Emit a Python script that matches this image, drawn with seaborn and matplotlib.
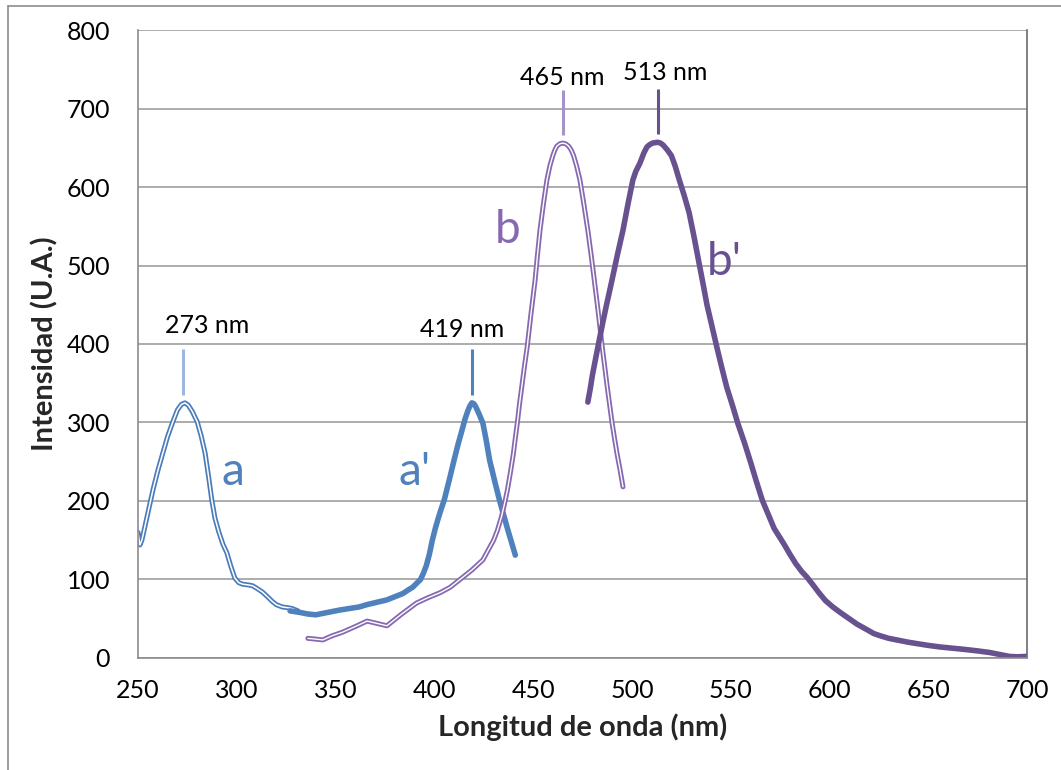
import pandas as pd
import seaborn as sns
import matplotlib.pyplot as plt
import matplotlib.patheffects as pe
from matplotlib.lines import Line2D

# Spectra (wavelength in nm, intensity in U.A.)
a_nm = [250, 251, 252, 253.5, 255.5, 257.6, 260, 262.6, 265, 267.7, 270, 272,
        273.8, 275.5, 277.5, 280, 282, 284, 285.7, 287.4, 289, 291, 293, 295,
        297, 299, 301, 303, 306, 308, 310, 313, 316, 318, 320, 323, 326, 328, 331]
a_int = [160, 144, 150, 167, 190, 214, 238, 261, 282, 301, 316, 323,
         325, 322, 314, 301, 283, 261, 232, 201, 178, 160, 145, 134,
         117, 102, 96, 94, 93, 92, 89, 84, 77, 72, 68, 65, 64, 63, 60]

a2_nm = [327, 332, 336, 340, 346, 352, 357, 362, 366, 371, 376, 380, 384, 387,
         389, 391, 393, 394.5, 396, 397.5, 399, 400.5, 402, 403.5, 405, 407.5,
         410, 412, 414, 415.5, 417, 418, 419, 420, 421, 422.8, 424.6, 426.3,
         428, 430.5, 433, 435, 437, 439, 441]
a2_int = [60, 58, 56, 55, 58, 61, 63, 65, 68, 71, 74, 78, 82, 87,
          90, 95, 100, 108, 118, 132, 150, 165, 178, 190, 201, 226,
          252, 272, 290, 304, 315, 321, 325, 324, 320, 310, 299, 277,
          252, 226, 201, 183, 165, 148, 131]

b_nm = [336, 340, 343.6, 348, 353.7, 360, 366, 371, 376, 383, 391, 397, 402.8,
        408, 413, 419, 424.6, 430, 432, 434, 435.5, 437, 438.5, 440, 441, 442,
        443.2, 444.5, 445.7, 447, 449, 451, 452.2, 453.5, 455.2, 457, 458.5,
        460, 461, 462, 463.5, 465, 466.5, 468, 469.3, 470.5, 472, 473.7, 475.7,
        477.7, 479.4, 481, 483, 485, 487.5, 490, 491.2, 492.5, 494, 495.5]
b_int = [25, 24, 23, 28, 33, 40, 47, 44, 41, 55, 70, 77, 83,
         90, 100, 112, 125, 150, 163, 180, 196, 214, 236, 260, 280, 299,
         325, 350, 373, 396, 440, 481, 513, 545, 578, 609, 627,
         640, 647, 652, 655, 656, 655, 652, 647, 640, 627, 609, 578,
         545, 513, 481, 440, 396, 346, 299, 280, 260, 240, 218]

b2_nm = [477.7, 479, 480, 482, 483.8, 485.5, 487, 488.5, 489.9, 492.7, 495.5,
         498, 500.5, 502, 504, 506, 507.6, 509, 510.5, 513, 514.5, 516, 518,
         520, 522, 524, 526.5, 529, 531.5, 534, 536, 538, 540.5, 543, 545.5,
         548, 551, 553.6, 557, 560, 563, 566, 569, 572, 574.5, 577, 580, 583,
         586, 588.6, 592, 595, 598, 601.7, 606, 610, 614, 619, 622.5, 626, 630,
         634, 640, 645, 650, 656, 662, 668, 675, 681, 686, 691, 695, 700]
b2_int = [326, 344, 360, 386, 409, 430, 448, 465, 481, 514, 545,
          578, 609, 620, 630, 643, 651, 654, 656, 657, 656, 653, 647,
          640, 626, 609, 589, 567, 536, 503, 477, 450, 423, 396, 370,
          345, 321, 299, 274, 250, 225, 201, 183, 165, 155, 145, 132, 120,
          110, 103, 92, 82, 73, 65, 57, 50, 43, 36, 31, 28, 25,
          23, 20, 18, 16, 14, 12.5, 11, 9, 7, 4.5, 2, 1.5, 2]

peak_nm = [273, 419, 465, 513]
peak_int = [325, 325, 656, 657]
peak_text = ["273 nm", "419 nm", "465 nm", "513 nm"]

curve_names = ["a", "a'", "b", "b'"]
curve_label_pos = [(298, 237), (390, 237), (437, 545), (547, 504)]

blue = "#4f81bd"
blue_thin = "#4a7cba"
purple_thin = "#8669b0"
purple = "#68518f"

sns.set_theme(style="white")
plt.rcParams["font.family"] = ["Lato", "DejaVu Sans"]

fig = plt.figure(figsize=(10.61, 7.70), dpi=100)
ax = fig.add_axes([0.130, 0.1455, 0.838, 0.8155])

double = lambda c: [pe.Stroke(linewidth=3.6, foreground=c), pe.Normal()]

sns.lineplot(x=a_nm, y=a_int, ax=ax, color="white", linewidth=1.1,
             estimator=None, path_effects=double(blue_thin))
sns.lineplot(x=a2_nm, y=a2_int, ax=ax, color=blue, linewidth=4.0,
             estimator=None, solid_capstyle="round", solid_joinstyle="round")
sns.lineplot(x=b_nm, y=b_int, ax=ax, color="white", linewidth=1.0,
             estimator=None, path_effects=double(purple_thin))
sns.lineplot(x=b2_nm, y=b2_int, ax=ax, color=purple, linewidth=4.0,
             estimator=None, solid_capstyle="round", solid_joinstyle="round")

# small vertical marks above each peak
mark_cols = ["#9db8dc", blue, "#a893c8", purple]
for nm, h, c in zip(peak_nm, peak_int, mark_cols):
    ax.vlines(nm, h + 10, h + 68, color=c, linewidth=2.2)

label_offsets = [(12, 98), (-5, 93), (0, 83), (4, 89)]
for nm, h, t, (dx, dy) in zip(peak_nm, peak_int, peak_text, label_offsets):
    ax.text(nm + dx, h + dy, t, ha="center", va="center", fontsize=18,
            color="black")

name_cols = [blue, blue, purple_thin, purple]
for name, (x, y), c in zip(curve_names, curve_label_pos, name_cols):
    ax.text(x, y, name, ha="center", va="center", fontsize=33, color=c)

ax.set_xlim(250, 700)
ax.set_ylim(0, 800)
ax.set_xticks(range(250, 701, 50))
ax.set_yticks(range(0, 801, 100))
ax.yaxis.grid(True, color="#a6a6a6", linewidth=1.3)
ax.xaxis.grid(False)
ax.set_axisbelow(True)

for side in ["left", "bottom"]:
    ax.spines[side].set_color("#8c8c8c")
    ax.spines[side].set_linewidth(1.2)
ax.spines["right"].set_color("#6b6b6b")
ax.spines["right"].set_linewidth(1.2)
ax.spines["top"].set_visible(False)

ax.tick_params(axis="both", which="major", direction="out", length=7,
               width=1.1, color="#8c8c8c", labelsize=18, labelcolor="black")
ax.tick_params(axis="x", pad=8)
ax.tick_params(axis="y", pad=13)

ax.set_xlabel("Longitud de onda (nm)", fontsize=21, fontweight="bold", labelpad=8)
ax.set_ylabel("Intensidad (U.A.)", fontsize=21, fontweight="bold", labelpad=6)

# frame of the chart area (left and top edges visible)
fig.add_artist(Line2D([8 / 1061, 8 / 1061], [0, 1 - 6 / 770],
                      transform=fig.transFigure, color="#8c8c8c", linewidth=1.2))
fig.add_artist(Line2D([8 / 1061, 1], [1 - 6 / 770, 1 - 6 / 770],
                      transform=fig.transFigure, color="#8c8c8c", linewidth=1.2))

fig.savefig("out.png", dpi=100)
